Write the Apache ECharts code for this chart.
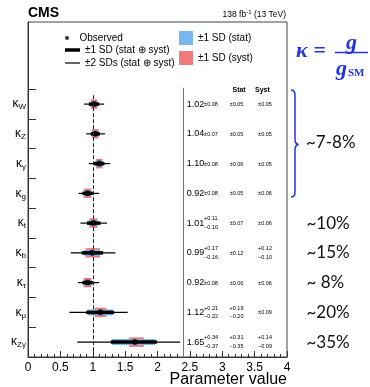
<!DOCTYPE html>
<html>
<head>
<meta charset="utf-8">
<script src="https://cdn.jsdelivr.net/npm/echarts@6/dist/echarts.min.js"></script>
<style>
html, body { margin: 0; padding: 0; background: #fff; }
#container { width: 370px; height: 387px; }
</style>
</head>
<body>
<div id="container"></div>
<script>
// couplings, top to bottom
const subs = ['W', 'Z', 'γ', 'g', 't', 'b', 'τ', 'μ', 'Zγ'];
const observed = [1.02, 1.04, 1.10, 0.92, 1.01, 0.99, 0.92, 1.12, 1.65];
const totUp = [0.08, 0.07, 0.08, 0.08, 0.11, 0.17, 0.08, 0.21, 0.34];
const totDn = [0.08, 0.07, 0.08, 0.08, 0.10, 0.16, 0.08, 0.22, 0.37];
const statUp = [0.05, 0.05, 0.06, 0.05, 0.07, 0.12, 0.06, 0.19, 0.31];
const statDn = [0.05, 0.05, 0.06, 0.05, 0.07, 0.12, 0.06, 0.20, 0.35];
const systUp = [0.05, 0.05, 0.05, 0.06, 0.06, 0.12, 0.06, 0.09, 0.14];
const systDn = [0.05, 0.05, 0.05, 0.06, 0.06, 0.10, 0.06, 0.09, 0.09];
// +-2 SD range
const twoLo = [0.865, 0.90, 0.94, 0.78, 0.81, 0.66, 0.77, 0.64, 0.76];
const twoHi = [1.176, 1.19, 1.27, 1.10, 1.22, 1.35, 1.10, 1.54, 2.35];
// hand-written precision notes on the right
const noteRows = [4, 5, 6, 7, 8];
const noteText = ['~10%', '~15%', '~ 8%', '~20%', '~35%'];
const groupNote = '~7-8%';

const FONT = 'Liberation Sans';
const BLUE = '#78b6ee';
const RED = '#ee7a7c';
const INK = '#2233e6';

var dom = document.getElementById('container');
var myChart = echarts.init(dom, null, { renderer: 'canvas' });

const rows = subs.map((s, i) => i);
const tickRows = subs.map((s, i) => i - 0.5);

function rangeData(center, up, dn) {
    return center.map((c, i) => [c - dn[i], c + up[i], i]);
}

function barItem(h) {
    return function (params, api) {
        const a = api.coord([api.value(0), api.value(2)]);
        const b = api.coord([api.value(1), api.value(2)]);
        return {
            type: 'rect',
            shape: { x: a[0], y: a[1] - h / 2, width: b[0] - a[0], height: h },
            style: { fill: api.visual('color') }
        };
    };
}

function fmt(v) { return v.toFixed(2); }

function errTexts(x, y, up, dn, align) {
    if (up === dn) {
        return [{ type: 'text', x: x, y: y + 0.5,
            style: { text: '±' + fmt(up), fontSize: 5.5, fontFamily: FONT, fill: '#000', align: align, verticalAlign: 'middle' } }];
    }
    return [
        { type: 'text', x: x, y: y - 4.3,
          style: { text: '+' + fmt(up), fontSize: 5.5, fontFamily: FONT, fill: '#000', align: align, verticalAlign: 'middle' } },
        { type: 'text', x: x, y: y + 4.5,
          style: { text: '−' + fmt(dn), fontSize: 5.5, fontFamily: FONT, fill: '#000', align: align, verticalAlign: 'middle' } }
    ];
}

function tableItem(params, api) {
    const i = params.dataIndex;
    const y = api.coord([0, i])[1];
    const xMain = api.coord([2.45, i])[0];
    const xErr = api.coord([2.72, i])[0];
    const xStat = api.coord([3.22, i])[0];
    const xSyst = api.coord([3.66, i])[0];
    let kids = [{
        type: 'text', x: xMain, y: y,
        style: { text: fmt(observed[i]), fontSize: 9, fontFamily: FONT, fill: '#000', align: 'left', verticalAlign: 'middle' }
    }];
    kids = kids.concat(errTexts(xErr, y, totUp[i], totDn[i], 'left'));
    kids = kids.concat(errTexts(xStat, y, statUp[i], statDn[i], 'center'));
    kids = kids.concat(errTexts(xSyst, y, systUp[i], systDn[i], 'center'));
    if (i === 0) {
        const yh = api.coord([0, -0.47])[1];
        kids.push({ type: 'text', x: api.coord([3.26, 0])[0], y: yh,
            style: { text: 'Stat', fontSize: 7, fontWeight: 'bold', fontFamily: FONT, fill: '#000', align: 'center', verticalAlign: 'middle' } });
        kids.push({ type: 'text', x: api.coord([3.62, 0])[0], y: yh,
            style: { text: 'Syst', fontSize: 7, fontWeight: 'bold', fontFamily: FONT, fill: '#000', align: 'center', verticalAlign: 'middle' } });
    }
    return { type: 'group', children: kids };
}

function noteItem(params, api) {
    const p = api.coord([4.3, api.value(0)]);
    return {
        type: 'text', x: p[0], y: p[1],
        style: { text: noteText[params.dataIndex], fontSize: 17, fontFamily: 'Lato', fill: '#111', align: 'left', verticalAlign: 'middle' }
    };
}

const legendText = { fontSize: 10, fontFamily: FONT, color: '#000' };
const braceStyle = { stroke: INK, lineWidth: 1.5, fill: null };

var option = {
    animation: false,
    grid: { left: 28, right: 83, top: 22, bottom: 30, show: true, borderColor: '#444', borderWidth: 1 },
    legend: [
        { selectedMode: false, padding: 0, left: 65, top: 33, itemWidth: 15, itemHeight: 4, textStyle: legendText,
          data: [{ name: 'Observed', icon: 'circle', itemStyle: { color: '#000' } }] },
        { selectedMode: false, padding: 0, left: 65, top: 45, itemWidth: 15, itemHeight: 3.5, textStyle: legendText,
          data: [{ name: '±1 SD (stat ⊕ syst)', icon: 'rect', itemStyle: { color: '#000' } }] },
        { selectedMode: false, padding: 0, left: 65, top: 58, itemWidth: 15, itemHeight: 1.2, textStyle: legendText,
          data: [{ name: '±2 SDs (stat ⊕ syst)', icon: 'rect', itemStyle: { color: '#000' } }] },
        { selectedMode: false, padding: 0, left: 179, top: 31, orient: 'vertical', itemWidth: 14, itemHeight: 14, itemGap: 6, textStyle: legendText,
          data: [{ name: '±1 SD (stat)', icon: 'rect', itemStyle: { color: BLUE } },
                 { name: '±1 SD (syst)', icon: 'rect', itemStyle: { color: RED } }] }
    ],
    xAxis: {
        type: 'value', min: 0, max: 4, interval: 0.5,
        axisLine: { show: true, onZero: false, lineStyle: { color: '#333' } },
        axisTick: { show: true, inside: true, length: 6, lineStyle: { color: '#333' } },
        minorTick: { show: true, splitNumber: 5, length: 3, lineStyle: { color: '#333' } },
        axisLabel: { fontSize: 12, fontFamily: FONT, color: '#000', margin: 5 },
        splitLine: { show: false }
    },
    yAxis: {
        type: 'value', inverse: true, min: -2.76, max: 8.5,
        axisLine: { show: true, onZero: false, lineStyle: { color: '#333' } },
        axisTick: { show: true, inside: true, length: 8, customValues: tickRows, lineStyle: { color: '#333' } },
        axisLabel: {
            customValues: rows, margin: 2,
            formatter: function (v) { return '{k|κ}{s|' + subs[Math.round(v)] + '}'; },
            rich: {
                k: { fontSize: 12, fontFamily: FONT, color: '#000' },
                s: { fontSize: 8, fontFamily: FONT, color: '#000', padding: [6, 0, 0, 0] }
            }
        },
        splitLine: { show: false }
    },
    series: [
        {
            name: '±2 SDs (stat ⊕ syst)', type: 'custom', renderItem: barItem(1.2),
            itemStyle: { color: '#000' }, encode: { x: [0, 1], y: 2 },
            data: twoLo.map((lo, i) => [lo, twoHi[i], i]),
            markLine: {
                silent: true, symbol: 'none', label: { show: false },
                data: [
                    [{ coord: [1, -0.3], lineStyle: { type: 'dashed', color: '#222', width: 1 } }, { coord: [1, 8.5] }],
                    [{ coord: [2.4, -0.55], lineStyle: { type: 'solid', color: '#777', width: 1 } }, { coord: [2.4, 8.5] }]
                ]
            }
        },
        {
            name: '±1 SD (syst)', type: 'custom', renderItem: barItem(9.5),
            itemStyle: { color: RED }, encode: { x: [0, 1], y: 2 },
            data: rangeData(observed, systUp, systDn)
        },
        {
            name: '±1 SD (stat)', type: 'custom', renderItem: barItem(6),
            itemStyle: { color: BLUE }, encode: { x: [0, 1], y: 2 },
            data: rangeData(observed, statUp, statDn)
        },
        {
            name: '±1 SD (stat ⊕ syst)', type: 'custom', renderItem: barItem(3.5),
            itemStyle: { color: '#000' }, encode: { x: [0, 1], y: 2 },
            data: rangeData(observed, totUp, totDn)
        },
        {
            name: 'Observed', type: 'scatter', symbol: 'circle', symbolSize: 6,
            itemStyle: { color: '#000' },
            data: observed.map((v, i) => [v, i])
        },
        {
            name: 'table', type: 'custom', renderItem: tableItem, silent: true,
            encode: { y: 0 }, data: rows.map(i => [i])
        },
        {
            name: 'notes', type: 'custom', renderItem: noteItem, silent: true, clip: false,
            encode: { y: 0 }, data: noteRows.map(r => [r])
        }
    ],
    graphic: [
        { type: 'text', left: 28, top: 6, style: { text: 'CMS', fontSize: 14, fontWeight: 'bold', fontFamily: FONT, fill: '#000' } },
        { type: 'text', right: 84, top: 9,
          style: { text: '138 fb{sup|-1} (13 TeV)', fontSize: 8.5, fontFamily: FONT, fill: '#000',
                   rich: { sup: { fontSize: 6, fontFamily: FONT, padding: [0, 0, 5, 0] } } } },
        { type: 'text', right: 83, top: 372, style: { text: 'Parameter value', fontSize: 16, fontFamily: FONT, fill: '#000' } },
        // kappa = g / g_SM
        { type: 'text', left: 296, top: 40, style: { text: 'κ =', fontSize: 22, fontWeight: 'bold', fontStyle: 'italic', fontFamily: 'Liberation Serif', fill: INK } },
        { type: 'line', shape: { x1: 335, y1: 52.5, x2: 368, y2: 52.5 }, style: { stroke: INK, lineWidth: 1.5 } },
        { type: 'text', left: 346, top: 32, style: { text: 'g', fontSize: 22, fontWeight: 'bold', fontStyle: 'italic', fontFamily: 'Liberation Serif', fill: INK } },
        { type: 'text', left: 336, top: 58, style: { text: 'g', fontSize: 22, fontWeight: 'bold', fontStyle: 'italic', fontFamily: 'Liberation Serif', fill: INK } },
        { type: 'text', left: 348, top: 68, style: { text: 'SM', fontSize: 11, fontWeight: 'bold', fontFamily: 'Liberation Serif', fill: INK } },
        // brace over the first four couplings
        { type: 'bezierCurve', shape: { x1: 291, y1: 90, cpx1: 295, cpy1: 90, x2: 295, y2: 95 }, style: braceStyle },
        { type: 'line', shape: { x1: 295, y1: 95, x2: 295, y2: 139 }, style: braceStyle },
        { type: 'bezierCurve', shape: { x1: 295, y1: 139, cpx1: 295, cpy1: 144, x2: 298.5, y2: 144.5 }, style: braceStyle },
        { type: 'bezierCurve', shape: { x1: 298.5, y1: 144.5, cpx1: 295, cpy1: 145, x2: 295, y2: 150 }, style: braceStyle },
        { type: 'line', shape: { x1: 295, y1: 150, x2: 295, y2: 192 }, style: braceStyle },
        { type: 'bezierCurve', shape: { x1: 295, y1: 192, cpx1: 295, cpy1: 197, x2: 291, y2: 197 }, style: braceStyle },
        { type: 'text', left: 306, top: 134, style: { text: groupNote, fontSize: 17, fontFamily: 'Lato', fill: '#111' } }
    ]
};

if (option && typeof option === 'object') {
    myChart.setOption(option);
}

window.addEventListener('resize', myChart.resize);
</script>
</body>
</html>
